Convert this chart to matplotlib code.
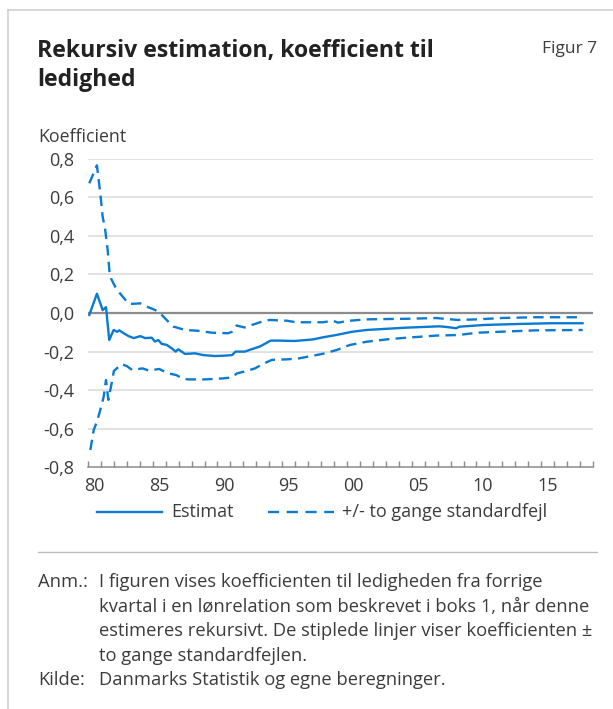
import matplotlib
matplotlib.use("Agg")
import matplotlib.pyplot as plt
from matplotlib.lines import Line2D
from matplotlib.ticker import FixedLocator, NullFormatter

plt.rcParams['font.family'] = ['Open Sans', 'DejaVu Sans']
plt.rcParams['lines.scale_dashes'] = False

# ---------------- data ----------------
est_x = [1980.10, 1980.69, 1981.13, 1981.39, 1981.64, 1981.98, 1982.24, 1982.42, 1982.76,
         1983.14, 1983.53, 1984.04, 1984.42, 1984.92, 1985.17, 1985.43, 1985.69, 1986.08,
         1986.46, 1986.77, 1986.97, 1987.23, 1987.49, 1988.26, 1988.90, 1989.79, 1990.56,
         1991.13, 1991.39, 1992.11, 1992.62, 1993.26, 1993.65, 1994.11, 1994.67, 1995.96,
         1997.37, 1998.14, 1999.17, 2000.33, 2001.49, 2003.28, 2004.57, 2007.14, 2007.78,
         2008.43, 2008.68, 2010.61, 2013.18, 2015.75, 2018.19]
est_y = [-0.01, 0.10, 0.015, 0.03, -0.14, -0.088, -0.097, -0.09, -0.105,
         -0.12, -0.13, -0.12, -0.13, -0.128, -0.148, -0.14, -0.16, -0.165,
         -0.183, -0.20, -0.188, -0.20, -0.212, -0.209, -0.218, -0.223, -0.221,
         -0.218, -0.20, -0.20, -0.188, -0.174, -0.16, -0.143, -0.143, -0.145,
         -0.137, -0.126, -0.114, -0.098, -0.088, -0.081, -0.076, -0.069, -0.073,
         -0.079, -0.071, -0.062, -0.057, -0.053, -0.053]

upper_x = [1980.10, 1980.69, 1980.95, 1981.13, 1981.33, 1981.52, 1981.67, 1981.77, 1982.10,
           1982.37, 1983.01, 1983.26, 1984.04, 1984.55, 1985.17, 1985.55, 1986.07, 1986.58,
           1987.49, 1988.50, 1989.54, 1990.82, 1991.13, 1991.47, 1992.11, 1992.65, 1993.42,
           1994.03, 1995.34, 1996.09, 1998.14, 1998.91, 1999.30, 2000.20, 2001.49, 2003.28,
           2004.57, 2006.88, 2008.55, 2010.09, 2011.90, 2014.47, 2018.19]
upper_y = [0.672, 0.765, 0.62, 0.50, 0.43, 0.326, 0.205, 0.18, 0.136,
           0.11, 0.058, 0.047, 0.05, 0.033, 0.016, 0.0, -0.036, -0.07,
           -0.088, -0.092, -0.102, -0.105, -0.097, -0.065, -0.075, -0.062, -0.045,
           -0.036, -0.040, -0.048, -0.048, -0.04, -0.05, -0.04, -0.033, -0.031,
           -0.03, -0.026, -0.036, -0.033, -0.026, -0.022, -0.022]

lower_x = [1980.18, 1980.44, 1980.69, 1980.95, 1981.21, 1981.39, 1981.57, 1981.83, 1982.00,
           1982.60, 1983.00, 1983.40, 1984.20, 1984.70, 1985.50, 1986.20, 1986.80, 1987.30,
           1987.70, 1989.00, 1990.40, 1991.10, 1991.50, 1992.10, 1992.90, 1993.50, 1994.20,
           1995.40, 1996.30, 1998.10, 1999.20, 2000.20, 2001.50, 2003.30, 2004.60, 2006.90,
           2008.60, 2010.10, 2011.90, 2014.50, 2018.20]
lower_y = [-0.71, -0.606, -0.563, -0.502, -0.434, -0.347, -0.45, -0.363, -0.30,
           -0.265, -0.275, -0.295, -0.287, -0.298, -0.29, -0.313, -0.321, -0.339,
           -0.344, -0.344, -0.339, -0.334, -0.313, -0.303, -0.287, -0.264, -0.243,
           -0.240, -0.235, -0.212, -0.192, -0.166, -0.149, -0.135, -0.128, -0.117,
           -0.114, -0.102, -0.097, -0.09, -0.088]

year_labels = ["80", "85", "90", "95", "00", "05", "10", "15"]
label_years = [1980, 1985, 1990, 1995, 2000, 2005, 2010, 2015]
y_ticks = [-0.8, -0.6, -0.4, -0.2, 0.0, 0.2, 0.4, 0.6, 0.8]

title = "Rekursiv estimation, koefficient til\nledighed"
fig_label = "Figur 7"
y_unit = "Koefficient"
legend_labels = ["Estimat", "+/- to gange standardfejl"]
note_lines = ["I figuren vises koefficienten til ledigheden fra forrige",
              "kvartal i en lønrelation som beskrevet i boks 1, når denne",
              "estimeres rekursivt. De stiplede linjer viser koefficienten ±",
              "to gange standardfejlen."]
source = "Danmarks Statistik og egne beregninger."

# ---------------- styling ----------------
BLUE = "#0a7ad2"
TXT = "#3c3c3c"
DASH = (7.5, 4.5)
W, H = 613, 709
fig = plt.figure(figsize=(W / 100, H / 100), dpi=100)

def fx(px):
    return px / W

def fy(py):
    return 1 - py / H

# frame (left and top borders)
fig.add_artist(Line2D([fx(8), fx(8)], [fy(10), 0], color="#cfcfcf", lw=1.2))
fig.add_artist(Line2D([fx(8), 1], [fy(10), fy(10)], color="#cfcfcf", lw=1.2))

ax = fig.add_axes([fx(88), fy(467.4), fx(593) - fx(88), fy(158.6) - fy(467.4)])
ax.set_xlim(1980, 2019)
ax.set_ylim(-0.8, 0.8)

for v in y_ticks:
    if v == 0.0:
        ax.axhline(v, color="#8c8c8c", lw=1.6, zorder=1)
    elif v > -0.8:
        ax.axhline(v, color="#d9d9d9", lw=1.1, zorder=1)

ax.plot(est_x, est_y, color=BLUE, lw=1.7, zorder=3, solid_joinstyle="round")
ax.plot(upper_x, upper_y, color=BLUE, lw=1.7, dashes=DASH, zorder=3)
ax.plot(lower_x, lower_y, color=BLUE, lw=1.7, dashes=DASH, zorder=3)

for s in ["top", "right", "left"]:
    ax.spines[s].set_visible(False)
ax.spines["bottom"].set_color("#8c8c8c")
ax.spines["bottom"].set_linewidth(1.1)

ax.set_yticks(y_ticks)
ax.set_yticklabels([f"{v:.1f}".replace(".", ",").replace("-0,0", "0,0") for v in y_ticks],
                   fontsize=13, color=TXT)
ax.tick_params(axis="y", length=0, pad=10)

ax.xaxis.set_major_locator(FixedLocator(list(range(1980, 2020))))
ax.xaxis.set_major_formatter(NullFormatter())
ax.xaxis.set_minor_locator(FixedLocator([y + 0.5 for y in label_years]))
ax.set_xticklabels(year_labels, minor=True, fontsize=13, color=TXT)
ax.tick_params(axis="x", which="major", direction="in", length=4, width=1, color="#8c8c8c")
ax.tick_params(axis="x", which="minor", length=0, pad=7)

# texts
fig.text(fx(37), fy(39), title, fontsize=16.6, fontweight="bold", color="#222222",
         va="top", ha="left", linespacing=1.3)
fig.text(fx(597), fy(49), fig_label, fontsize=12.5, color=TXT, va="center", ha="right")
fig.text(fx(38), fy(137), y_unit, fontsize=12.8, color=TXT, va="center", ha="left")

# legend
ly = fy(512)
fig.add_artist(Line2D([fx(97), fx(162)], [ly, ly], color=BLUE, lw=1.7))
fig.text(fx(171), ly, legend_labels[0], fontsize=13, color=TXT, va="center", ha="left")
fig.add_artist(Line2D([fx(268), fx(334)], [ly, ly], color=BLUE, lw=1.7, dashes=(8, 5.5)))
fig.text(fx(342), ly, legend_labels[1], fontsize=13, color=TXT, va="center", ha="left")

# separator
fig.add_artist(Line2D([fx(38), fx(597)], [fy(552), fy(552)], color="#bdbdbd", lw=1))

# notes
NS = 13.2
ys = [582, 607, 631, 656]
fig.text(fx(38), fy(ys[0]), "Anm.:", fontsize=NS, color=TXT, va="center", ha="left")
for t, yy in zip(note_lines, ys):
    fig.text(fx(99), fy(yy), t, fontsize=NS, color=TXT, va="center", ha="left")
fig.text(fx(38), fy(680), "Kilde:", fontsize=NS, color=TXT, va="center", ha="left")
fig.text(fx(99), fy(680), source, fontsize=NS, color=TXT, va="center", ha="left")

fig.savefig("out.png", dpi=100)
